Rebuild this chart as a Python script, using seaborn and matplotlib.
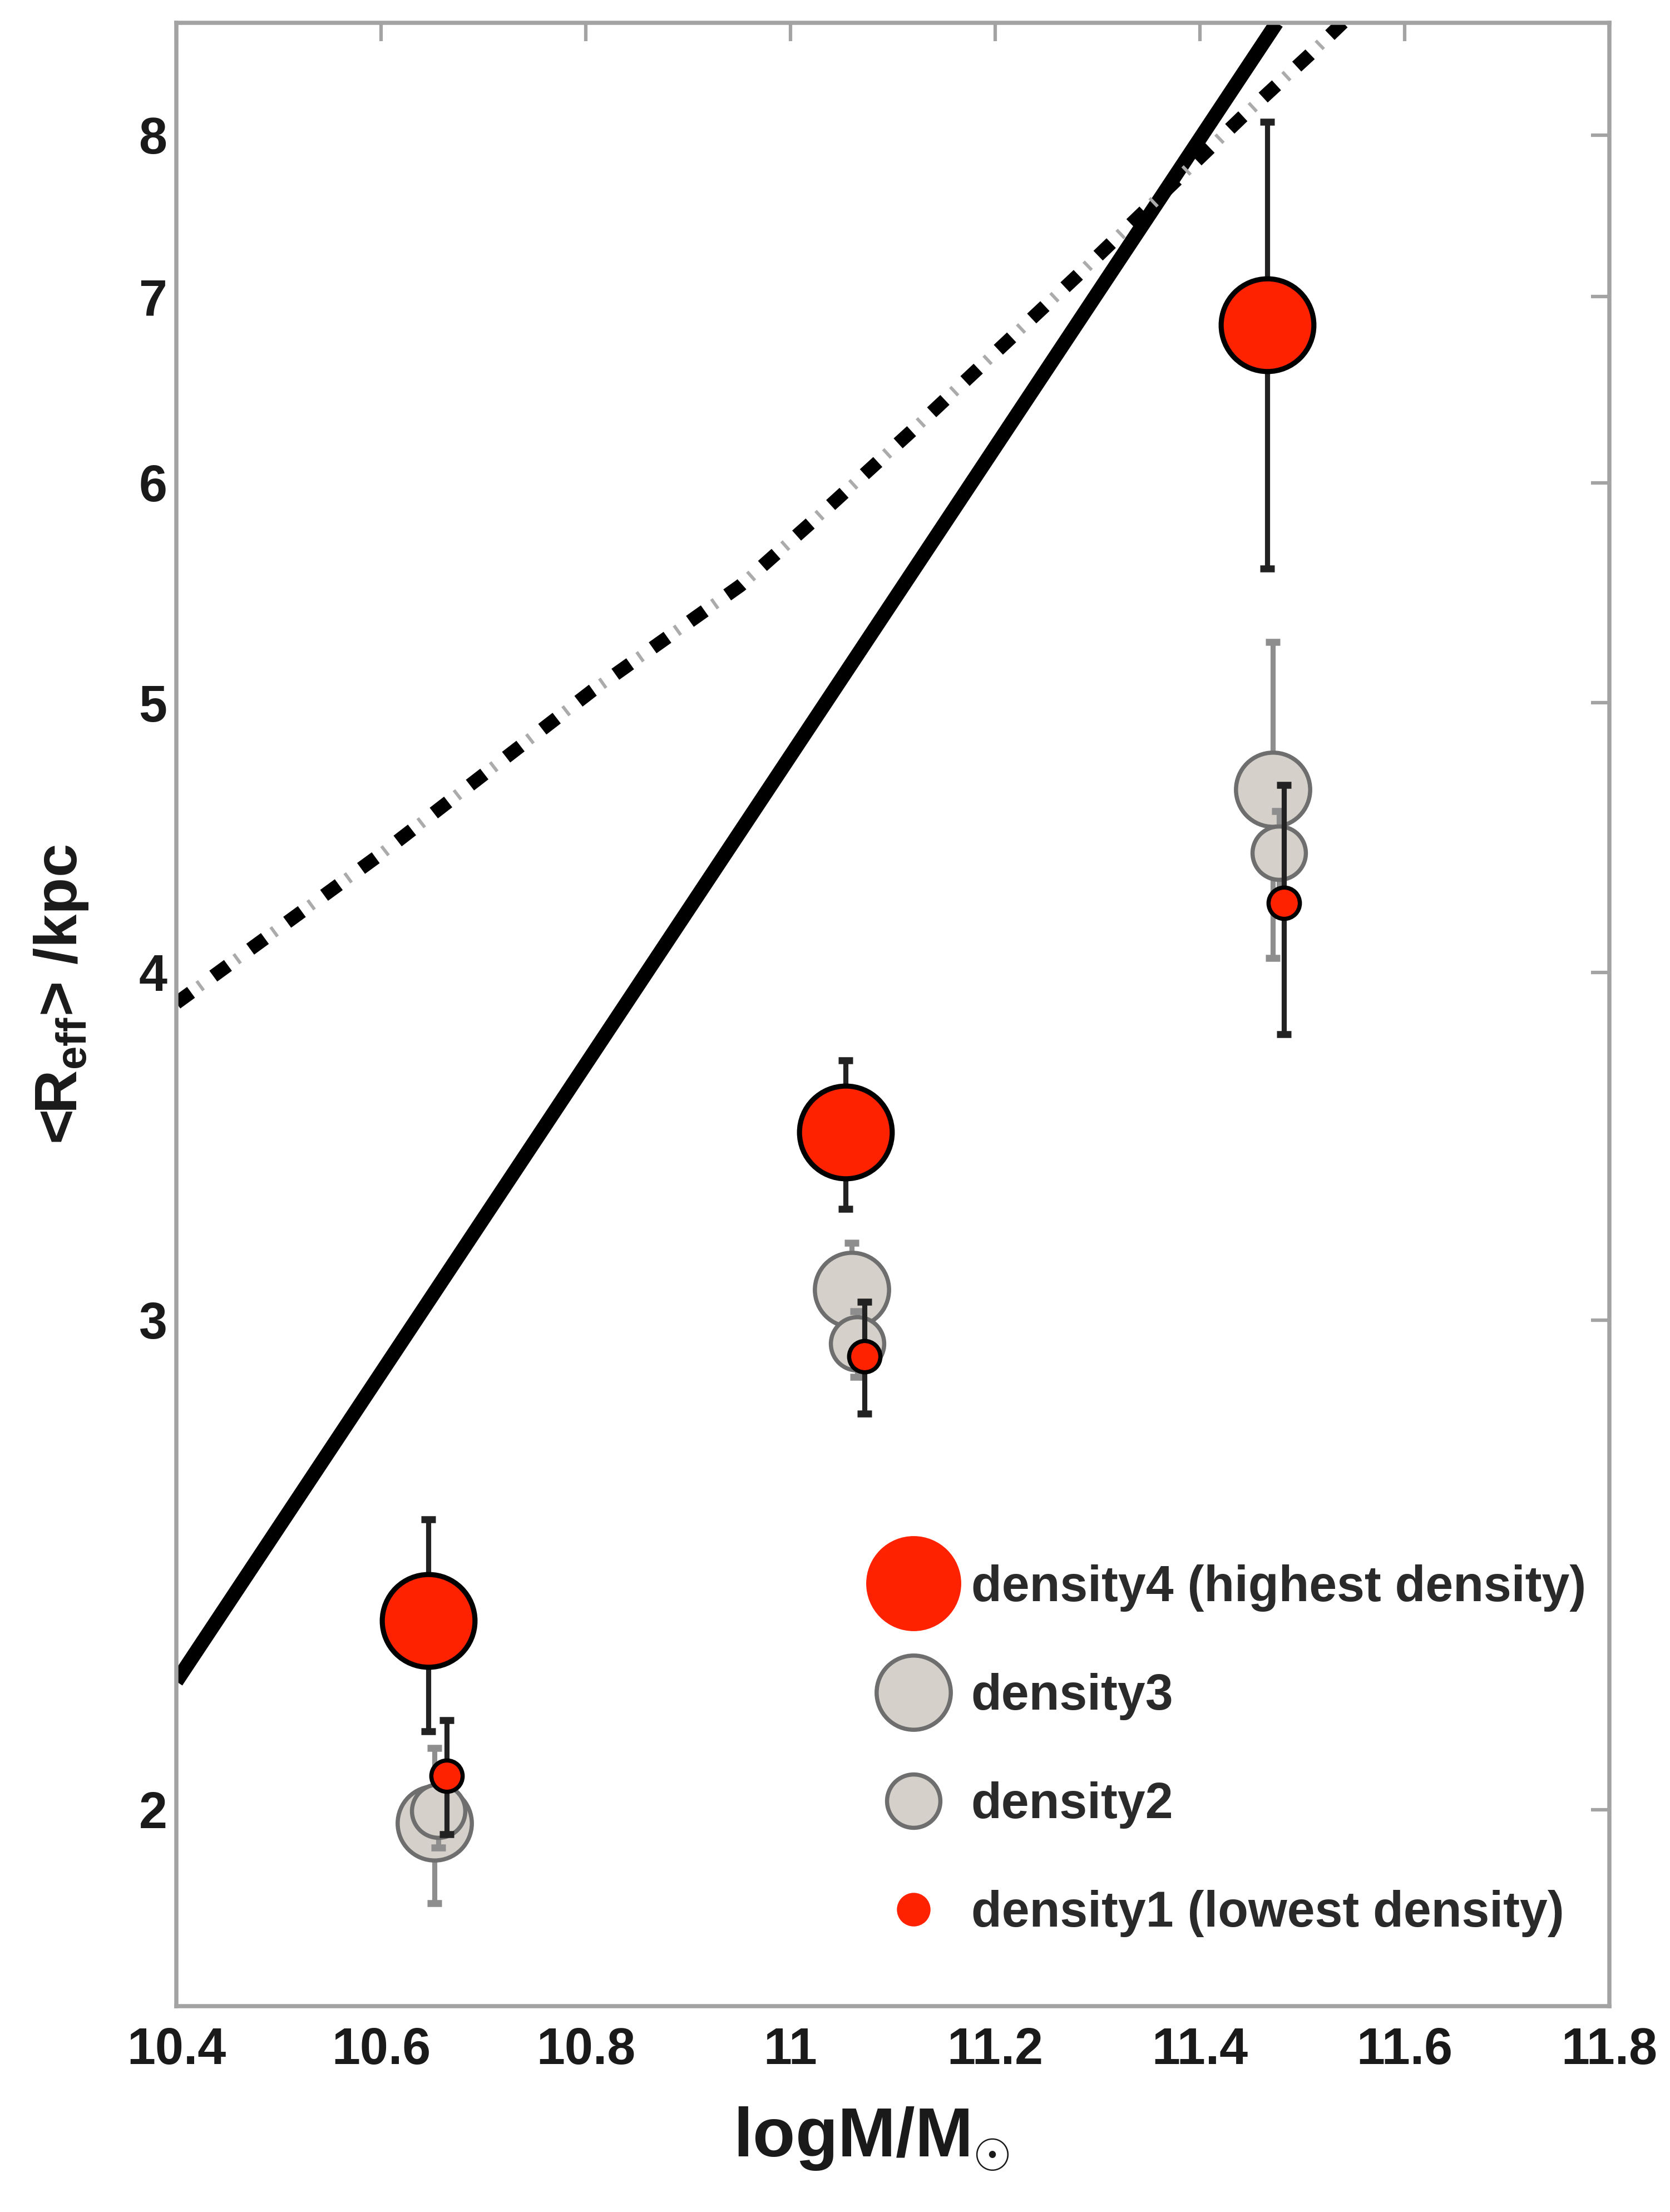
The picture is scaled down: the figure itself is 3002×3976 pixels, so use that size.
import numpy as np
import pandas as pd
import matplotlib
matplotlib.use("Agg")
import matplotlib.pyplot as plt
import seaborn as sns
from matplotlib.lines import Line2D
from matplotlib.ticker import FixedLocator, NullLocator, FixedFormatter

# ---------------- data ----------------
log_mass_d4 = [10.646, 11.054, 11.466]
reff_d4 = [2.339, 3.504, 6.837]
err_d4 = [0.205, 0.215, 1.25]

log_mass_d3 = [10.652, 11.060, 11.471]
reff_d3 = [1.978, 3.077, 4.654]
err_d3 = [0.127, 0.12, 0.605]

log_mass_d2 = [10.656, 11.065, 11.477]
reff_d2 = [1.998, 2.942, 4.416]
err_d2 = [0.06, 0.08, 0.155]

log_mass_d1 = [10.664, 11.0725, 11.482]
reff_d1 = [2.057, 2.911, 4.236]
err_d1 = [0.097, 0.135, 0.435]

solid_x = [10.40, 11.475]
solid_y = [2.224, 8.78]

dashdot_x = [10.40, 10.599, 10.806, 10.951, 11.026, 11.120, 11.280, 11.441, 11.507, 11.545]
dashdot_y = [3.90, 4.41, 5.05, 5.51, 5.83, 6.27, 7.12, 8.12, 8.55, 8.82]

x_ticks = [10.4, 10.6, 10.8, 11.0, 11.2, 11.4, 11.6, 11.8]
x_tick_labels = ["10.4", "10.6", "10.8", "11", "11.2", "11.4", "11.6", "11.8"]
y_ticks = [2, 3, 4, 5, 6, 7, 8]
y_tick_labels = ["2", "3", "4", "5", "6", "7", "8"]

legend_labels = ["density4 (highest density)", "density3", "density2",
                 "density1 (lowest density)"]

# ---------------- style ----------------
sns.set_style("white")
plt.rcParams["font.family"] = ["Liberation Sans", "DejaVu Sans"]
plt.rcParams["font.weight"] = "bold"
plt.rcParams["mathtext.fontset"] = "custom"
plt.rcParams["mathtext.rm"] = "Liberation Sans:bold"
plt.rcParams["mathtext.bf"] = "Liberation Sans:bold"
plt.rcParams["mathtext.it"] = "Liberation Sans:bold"

RED = "#FF2200"
GREY_FILL = "#D5D1CA"
GREY_EDGE = "#6E6E6E"
SPINE = "#A3A3A3"
TXT = "#1A1A1A"

fig = plt.figure(figsize=(3002 / 300, 3976 / 300), dpi=300)
ax = fig.add_axes([0.1056, 0.0931, 0.8581, 0.8966])
ax.set_yscale("log")

# ---------------- lines ----------------
sns.lineplot(x=solid_x, y=solid_y, ax=ax, color="black", linewidth=6.2,
             sort=False, estimator=None, zorder=2, solid_capstyle="butt")
sns.lineplot(x=dashdot_x, y=dashdot_y, ax=ax, color="black", linewidth=5.8,
             sort=False, estimator=None, zorder=2.5,
             linestyle=(0, (1.35, 2.05)), dash_capstyle="butt")
sns.lineplot(x=dashdot_x, y=dashdot_y, ax=ax, color="#ABABAB", linewidth=5.0,
             sort=False, estimator=None, zorder=2.4,
             linestyle=(1.55, (0.28, 3.67)), dash_capstyle="butt")

# ---------------- points with error bars ----------------
series = [
    (log_mass_d4, reff_d4, err_d4, RED, "black", 2.2, 40, "#222222", 3),
    (log_mass_d3, reff_d3, err_d3, GREY_FILL, GREY_EDGE, 1.8, 32, "#8E8E8E", 5),
    (log_mass_d2, reff_d2, err_d2, GREY_FILL, GREY_EDGE, 1.8, 23, "#8E8E8E", 7),
    (log_mass_d1, reff_d1, err_d1, RED, "black", 1.8, 13.5, "#222222", 9),
]
for xs, ys, es, fc, ec, ew, ms, errc, z in series:
    ax.errorbar(xs, ys, yerr=es, fmt="none", ecolor=errc, elinewidth=2.2,
                capsize=3.2, capthick=3.0, zorder=z)
    sns.scatterplot(x=xs, y=ys, ax=ax, s=ms ** 2, color=fc, edgecolor=ec,
                    linewidth=ew, zorder=z + 1, legend=False)

# ---------------- axes ----------------
ax.set_xlim(10.4, 11.8)
ax.set_ylim(1.70, 8.78)
ax.xaxis.set_major_locator(FixedLocator(x_ticks))
ax.xaxis.set_major_formatter(FixedFormatter(x_tick_labels))
ax.yaxis.set_major_locator(FixedLocator(y_ticks))
ax.yaxis.set_major_formatter(FixedFormatter(y_tick_labels))
ax.yaxis.set_minor_locator(NullLocator())
ax.xaxis.set_minor_locator(NullLocator())

ax.tick_params(axis="both", which="major", direction="in", length=8, width=1.5,
               color=SPINE, top=True, right=True, labelsize=22,
               labelcolor=TXT)
ax.tick_params(axis="x", pad=9)
ax.tick_params(axis="y", pad=4)
for lab in ax.get_xticklabels() + ax.get_yticklabels():
    lab.set_fontweight("bold")
for sp in ax.spines.values():
    sp.set_color(SPINE)
    sp.set_linewidth(1.8)

ax.set_xlabel(r"logM/M$_{\odot}$", fontsize=30, fontweight="bold", color=TXT)
ax.xaxis.set_label_coords(0.485, -0.050)
ax.set_ylabel(r"<R$_{\mathbf{eff}}$> /kpc", fontsize=26, fontweight="bold",
              color=TXT)
ax.yaxis.set_label_coords(-0.060, 0.51)

# ---------------- legend ----------------
handles = [
    Line2D([], [], ls="none", marker="o", markersize=40, markerfacecolor=RED,
           markeredgecolor=RED, markeredgewidth=1.0),
    Line2D([], [], ls="none", marker="o", markersize=32, markerfacecolor=GREY_FILL,
           markeredgecolor=GREY_EDGE, markeredgewidth=1.8),
    Line2D([], [], ls="none", marker="o", markersize=23, markerfacecolor=GREY_FILL,
           markeredgecolor=GREY_EDGE, markeredgewidth=1.8),
    Line2D([], [], ls="none", marker="o", markersize=13.5, markerfacecolor=RED,
           markeredgecolor=RED, markeredgewidth=1.0),
]
leg = ax.legend(handles, legend_labels, loc="upper left",
                bbox_to_anchor=(0.529, 0.2928), bbox_transform=fig.transFigure,
                frameon=False, fontsize=21.5, handlelength=1.2,
                handletextpad=0.56, labelspacing=1.23, borderpad=0,
                borderaxespad=0)
for t in leg.get_texts():
    t.set_color("#2A2A2A")
    t.set_fontweight("bold")

fig.savefig("out.png", dpi=300, facecolor="white")
